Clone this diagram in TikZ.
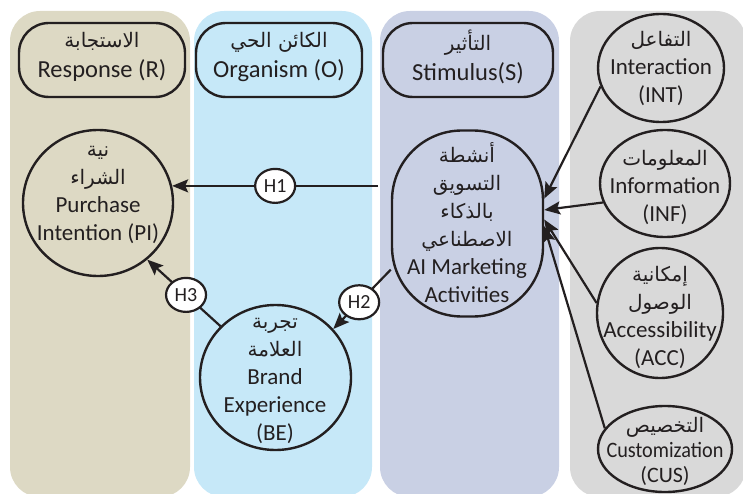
\documentclass[tikz,border=0pt]{standalone}
\usepackage{fontspec}
\usepackage{graphicx}
\setmainfont{Carlito}
\newfontfamily\arfont[Script=Arabic]{DejaVu Sans}
\TeXXeTstate=1
\usetikzlibrary{arrows.meta,shapes.geometric}
\newcommand{\AR}[1]{{\fontsize{20}{28}\selectfont\arfont\beginR #1\endR}}
\definecolor{tanbg}{HTML}{DDD9C4}
\definecolor{bluebg}{HTML}{C6E8F8}
\definecolor{lavbg}{HTML}{C9D0E4}
\definecolor{graybg}{HTML}{D9D9D9}
\definecolor{ink}{HTML}{231F20}
\begin{document}
\begin{tikzpicture}[x=1pt,y=-1pt,
  panel/.style={rounded corners=30pt},
  hdr/.style={draw=ink,line width=2.4pt,rounded corners=30pt,minimum width=166pt,minimum height=74pt,inner sep=0pt},
  circ/.style={draw=ink,line width=2.4pt,ellipse,inner sep=0pt},
  txt/.style={align=center,font=\fontsize{23}{28}\selectfont,text=ink,inner sep=0pt},
  hdrtxt/.style={txt,font=\fontsize{24.5}{30}\selectfont},
  hlab/.style={draw=ink,fill=white,line width=2.2pt,ellipse,minimum width=40pt,minimum height=34pt,inner sep=0pt,font=\fontsize{20}{24}\selectfont,text=ink},
  conn/.style={draw=ink,line width=2.2pt,-{Stealth[length=16pt,width=13pt,inset=3pt]}}
]
\useasboundingbox (0,0) rectangle (743,494);
% panels
\fill[tanbg,panel] (10,11) rectangle (190,497);
\fill[bluebg,panel] (194,11) rectangle (372,497);
\fill[lavbg,panel] (380,11) rectangle (559,497);
\fill[graybg,panel] (570,11) rectangle (746,497);
% headers
\node[hdr] (hR) at (102,60) {};
\node[hdr] (hO) at (279,60) {};
\node[hdr,minimum width=170pt] (hS) at (468,60) {};
\node[hdrtxt] (hRt) at (102,57) {\AR{الاستجابة}\\Response (R)};
\node[hdrtxt] (hOt) at (279,57) {\AR{الكائن الحي}\\Organism (O)};
\node[hdrtxt] (hSt) at (468,57) {\AR{التأثير}\\Stimulus(S)};
% shapes
\node[circ,minimum width=150pt,minimum height=146pt] (pi) at (98,203) {};
\node[circ,minimum width=151pt,minimum height=145pt] (be) at (275.5,377.5) {};
\node[draw=ink,line width=2.4pt,rounded corners=70pt,minimum width=151pt,minimum height=186pt,inner sep=0pt] (ai) at (467.5,223.5) {};
\node[circ,minimum width=126pt,minimum height=108pt] (int) at (661,68) {};
\node[circ,minimum width=130pt,minimum height=107pt] (inf) at (665,183.5) {};
\node[circ,minimum width=126pt,minimum height=130pt] (acc) at (660,313) {};
\node[circ,minimum width=134pt,minimum height=86pt] (cus) at (665,449) {};
% texts
\node[txt] (pit) at (98,195) {\AR{نية}\\\AR{الشراء}\\Purchase\\Intention (PI)};
\node[txt] (bet) at (275,381) {\AR{تجربة}\\\AR{العلامة}\\Brand\\Experience\\(BE)};
\node[txt] (ait) at (467,223) {\AR{أنشطة}\\\AR{التسويق}\\\AR{بالذكاء}\\\AR{الاصطناعي}\\AI Marketing\\Activities};
\node[txt] (intt) at (661,68) {\AR{التفاعل}\\Interaction\\(INT)};
\node[txt] (inft) at (665,187) {\AR{المعلومات}\\Information\\(INF)};
\node[txt] (acct) at (660,317) {\AR{إمكانية}\\\AR{الوصول}\\Accessibility\\(ACC)};
\node[txt,font=\fontsize{22}{25}\selectfont] (cust) at (665,451) {\AR{التخصيص}\\\scalebox{0.92}[1]{Customization}\\(CUS)};
% connectors
\draw[conn] (int.197) -- (ai.18);
\draw[conn] (inf.197) -- (ai.10);
\draw[conn] (acc.171) -- (ai.3);
\draw[conn] (cus.161) -- (ai.-2);
\path (pi.13) ++(206,0) coordinate (h1s);
\draw[conn] (h1s) -- node[hlab,pos=0.5]{H1} (pi.13);
\draw[conn] (ai.211) -- node[hlab,pos=0.55]{H2} (be.40);
\draw[conn] (be.137) -- node[hlab,pos=0.47]{H3} (pi.311);
\end{tikzpicture}
\end{document}
